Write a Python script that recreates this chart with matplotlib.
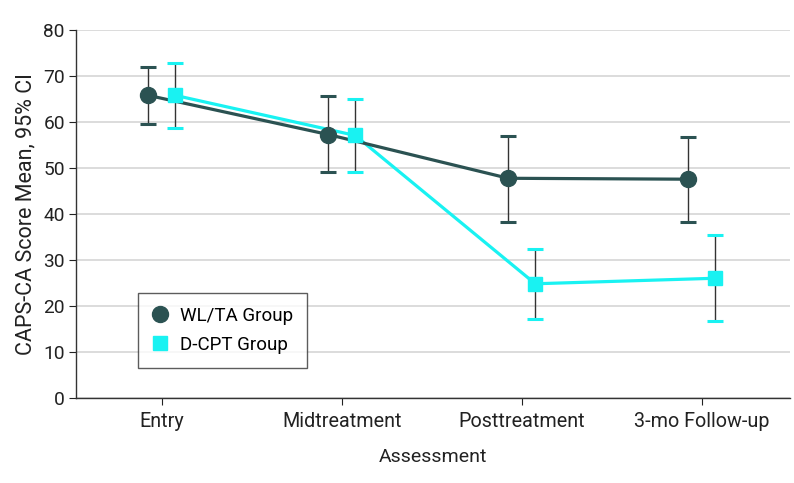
import matplotlib.pyplot as plt
import numpy as np

plt.rcParams['font.family'] = ['Roboto', 'DejaVu Sans']

categories = ["Entry", "Midtreatment", "Posttreatment", "3-mo Follow-up"]
wl_mean = [65.8, 57.3, 47.8, 47.6]
wl_low = [59.6, 49.1, 38.4, 38.4]
wl_high = [71.9, 65.7, 57.0, 56.7]
dcpt_mean = [65.8, 57.1, 24.9, 26.1]
dcpt_low = [58.8, 49.1, 17.2, 16.9]
dcpt_high = [72.9, 65.1, 32.5, 35.4]

dark = '#2b5252'
cyan = '#19f2f2'

fig = plt.figure(figsize=(7.94, 4.83), dpi=100)
ax = fig.add_axes([0.0957, 0.175, 0.8993, 0.763])

x = np.arange(len(categories))
off = 0.075
xw = x - off
xd = x + off

for xs, lo, hi, col in [(xw, wl_low, wl_high, dark), (xd, dcpt_low, dcpt_high, cyan)]:
    ax.vlines(xs, lo, hi, color='#333333', lw=1.0, zorder=2)
    ax.plot(xs, lo, ls='none', marker='_', ms=12, mew=2.2, color=col, zorder=2)
    ax.plot(xs, hi, ls='none', marker='_', ms=12, mew=2.2, color=col, zorder=2)

ax.plot(xd, dcpt_mean, color=cyan, lw=2.3, zorder=3)
ax.plot(xw, wl_mean, color=dark, lw=2.3, zorder=3)
ax.plot(xw, wl_mean, ls='none', marker='o', ms=11.5, color=dark, zorder=4, label='WL/TA Group')
ax.plot(xd, dcpt_mean, ls='none', marker='s', ms=10, color=cyan, zorder=4, label='D-CPT Group')

ax.set_xlim(-0.476, 3.49)
ax.set_ylim(0, 80)
ax.set_yticks(range(0, 81, 10))
ax.set_xticks(x)
ax.set_xticklabels(categories)
ax.grid(axis='y', color='#d9d9d9', lw=1.3, zorder=0)
ax.set_axisbelow(True)
for s in ['top', 'right']:
    ax.spines[s].set_visible(False)
for s in ['left', 'bottom']:
    ax.spines[s].set_color('#333333')
    ax.spines[s].set_linewidth(1.0)
ax.tick_params(axis='y', labelsize=13.8, colors='#222222', length=5, width=0.8, pad=3)
ax.tick_params(axis='x', labelsize=14.2, colors='#222222', length=5, width=0.8, pad=5)
ax.set_xlabel('Assessment', fontsize=14, color='#222222', labelpad=12)
ax.set_ylabel('CAPS-CA Score Mean, 95% CI', fontsize=15.5, color='#222222', labelpad=5)

leg = ax.legend(loc='lower left', bbox_to_anchor=(0.087, 0.083), borderaxespad=0, fontsize=13.5,
                frameon=True, fancybox=False, edgecolor='#333333', handlelength=0.8,
                handletextpad=0.7, borderpad=0.75, labelspacing=0.6)
leg.get_frame().set_linewidth(1.0)

fig.savefig('out.png', dpi=100)
